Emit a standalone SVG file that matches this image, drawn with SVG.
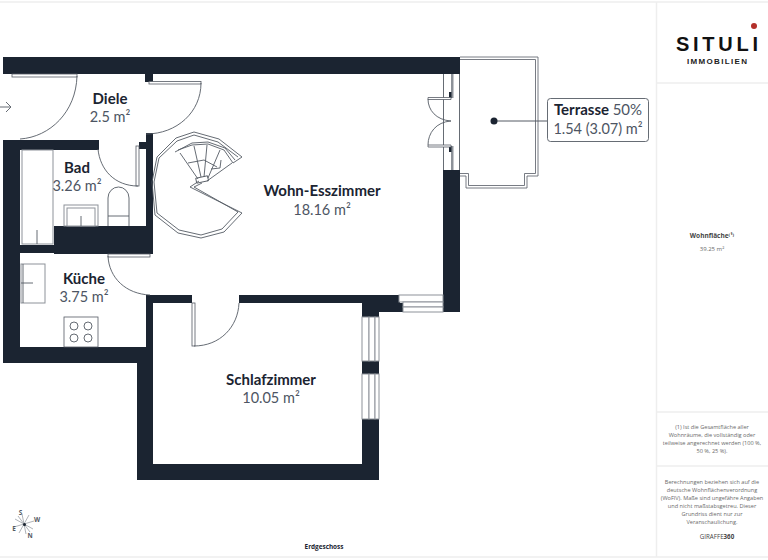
<svg xmlns="http://www.w3.org/2000/svg" width="768" height="560" viewBox="0 0 768 560">
<style>
.w{fill:#1b2431}
.l{fill:none;stroke:#1b2431;stroke-width:.8}
.g{fill:#fff;stroke:#8d9299;stroke-width:1}
.f{fill:#fff;stroke:#555b64;stroke-width:.8}
.s{fill:none;stroke:#555b64;stroke-width:.9}
.n{font-family:"Lato","Inter",sans-serif;font-weight:700;font-size:15px;fill:#1b2431;text-anchor:middle}
.a{font-family:"Lato","Inter",sans-serif;font-size:14.5px;fill:#4d5563;text-anchor:middle}
.b{stroke:#eeeeee;stroke-width:1.5;fill:none}
.t{font-family:"Open Sans",sans-serif;font-size:5.6px;fill:#6a6a6a;text-anchor:middle}
.c{font-family:"Open Sans",sans-serif;font-size:6.4px;font-weight:700;fill:#555b64;text-anchor:middle}
</style>
<rect width="768" height="560" fill="#fff"/>
<g id="frame">
<path class="b" d="M0 2H768M656.500 2V557M656.500 83H768M656.500 412H768M656.500 466H768M0 557H768"/>
</g>
<g id="terrace">
<path class="f" d="M460 57H538V176H527V188H466V176H460" stroke-width="1"/>
<path class="f" d="M460 59.500H535.500V173.500H524.500V185.500H468.500V173.500H460"/>
</g>
<g id="walls">
<rect class="w" x="3" y="57" width="457" height="17"/>
<rect class="w" x="145" y="74" width="8" height="8"/>
<rect class="w" x="146" y="133" width="7" height="93"/>
<rect class="w" x="139" y="142" width="14" height="7"/>
<rect class="w" x="3" y="140" width="17" height="223"/>
<rect class="w" x="3" y="140" width="96" height="10"/>
<rect class="w" x="54" y="226" width="99" height="28"/>
<rect class="w" x="20" y="245" width="40" height="8"/>
<rect class="w" x="3" y="347" width="150" height="16"/>
<rect class="w" x="146" y="295" width="7" height="68"/>
<rect class="w" x="137" y="347" width="16" height="133"/>
<rect class="w" x="137" y="464" width="242" height="16"/>
<rect class="w" x="146" y="295" width="46" height="8"/>
<rect class="w" x="239" y="295" width="161" height="8"/>
<rect class="w" x="362" y="303" width="17" height="14"/>
<rect class="w" x="379" y="303" width="24" height="9"/>
<rect class="w" x="362" y="361" width="17" height="13"/>
<rect class="w" x="362" y="419" width="17" height="50"/>
<rect class="w" x="443" y="170" width="17" height="142"/>
</g>
<g id="windows">
<g class="g">
<rect x="399" y="295" width="44" height="7"/>
<rect x="403" y="302" width="40" height="5"/>
<rect x="403" y="307" width="40" height="5"/>
<rect x="362" y="317" width="7" height="44"/>
<rect x="369" y="317" width="6" height="44"/>
<rect x="375" y="317" width="4" height="44"/>
<rect x="362" y="374" width="7" height="45"/>
<rect x="369" y="374" width="6" height="45"/>
<rect x="375" y="374" width="4" height="45"/>
</g>
<path d="M443.500 74V170M459.500 74V170" class="s"/>
<rect x="451" y="74" width="2.500" height="24" fill="#8d9299"/>
<rect x="451" y="146" width="2.500" height="24" fill="#8d9299"/>
<rect x="449" y="92" width="2.500" height="6" class="w"/>
<rect x="449" y="146" width="2.500" height="6" class="w"/>
</g>
<g id="doors">
<rect class="f" x="12" y="74" width="65" height="3"/>
<path class="s" d="M77 76C76 112 50 137 20 139"/>
<path class="s" d="M0 107H10M6 102L11 107L6 112"/>
<rect class="f" x="149" y="81.500" width="52" height="2.500"/>
<path class="s" d="M201 83C201 112 177 134 146 134"/>
<rect class="f" x="136" y="146" width="3" height="40"/>
<path class="s" d="M138 186C115 186 100 170 98 149"/>
<rect class="f" x="108" y="254" width="42" height="3"/>
<path class="s" d="M108 256C109 278 126 294 150 295"/>
<rect class="f" x="192" y="303" width="3" height="43"/>
<path class="s" d="M194 346C220 346 238 327 239 303"/>
<path class="f" d="M428 97.500H451V99.500H428Z"/>
<path class="f" d="M428 145H451V147H428Z"/>
<path class="s" d="M428 99C428 110 436 120 451 121C436 122 428 133 428 145"/>
</g>
<g id="fixtures">
<rect class="g" x="22" y="150" width="31" height="94"/>
<path class="s" d="M37 230V244"/>
<rect class="g" x="64" y="205" width="34" height="21"/>
<rect class="g" x="67" y="208" width="28" height="18"/>
<path class="s" d="M81 216V226"/>
<path class="s" d="M108 226V198A10.500 11 0 0 1 129 198V226M108 216H129"/>
<rect class="g" x="21" y="264" width="24" height="39"/>
<path class="s" d="M23 264V303M21 283H33"/>
<rect class="f" x="64" y="317" width="34" height="30"/>
<g class="s"><circle cx="74" cy="326" r="4"/><circle cx="88" cy="326" r="4"/><circle cx="74" cy="338" r="4"/><circle cx="88" cy="338" r="4"/></g>
</g>
<g id="stairs" class="s">
<path d="M199 181L190 187L242 213L224 232L201 238L178 233L155 215L152 182L157 157L176 138L194 132L219 139L242 157L233 163"/>
<path d="M202 183L194 187L238 212L222 229L201 235L179 230L157 213L154 182L159 158L177 141L194 135L218 142L238 157"/>
<path d="M175 152L192 143L208 142L225 148L235 160"/>
<path d="M178 150L192 145L208 144L224 150L233 163"/>
<path d="M180 153L198 179M194 146L201 177M207 145L204 177M220 150L208 178M232 163L207 181"/>
<path d="M188 163L204 160L217 167M211 169L220 168L221 160"/>
<rect x="196" y="177" width="12" height="5" transform="rotate(-12 202 179)"/>
</g>
<g id="diele"><text class="n" x="110" y="104">Diele</text><text class="a" x="110" y="122">2.5 m²</text></g>
<g id="bad"><text class="n" x="77" y="173">Bad</text><text class="a" x="77" y="191">3.26 m²</text></g>
<g id="kueche"><text class="n" x="84" y="284">Küche</text><text class="a" x="84" y="302">3.75 m²</text></g>
<g id="wohn"><text class="n" x="322" y="196">Wohn-Esszimmer</text><text class="a" x="322" y="215">18.16 m²</text></g>
<g id="schlaf"><text class="n" x="271" y="385">Schlafzimmer</text><text class="a" x="271" y="403">10.05 m²</text></g>
<g id="connectors"><path d="M494 121H547" stroke="#555b64" stroke-width="1"/><circle cx="494" cy="121" r="3.500" class="w"/></g>
<g id="terrasse">
<rect x="547.500" y="98.500" width="101" height="43" rx="3" fill="#fff" stroke="#555b64" stroke-width=".9"/>
<text class="n" x="598" y="115"><tspan>Terrasse</tspan> <tspan style="font-weight:400;fill:#4d5563">50%</tspan></text>
<text class="a" x="598" y="134">1.54 (3.07) m²</text>
</g>
<g id="logo">
<text x="676" y="51" font-family="Liberation Sans,sans-serif" font-size="20" font-weight="700" fill="#111" textLength="82" lengthAdjust="spacing">SITULI</text>
<text x="687" y="64" font-family="Liberation Sans,sans-serif" font-size="8" font-weight="700" fill="#222" textLength="60" lengthAdjust="spacing">IMMOBILIEN</text>
<circle cx="754" cy="26" r="3" fill="#b3302a"/>
</g>
<g id="sidebar">
<text class="t" x="712" y="238" style="font-weight:700;font-size:6.500px;fill:#444">Wohnfläche⁽¹⁾</text>
<text class="t" x="712" y="251" style="font-size:6px">39.25 m²</text>
<text class="t" x="712" y="429">(1) Ist die Gesamtfläche aller</text>
<text class="t" x="712" y="437">Wohnräume, die vollständig oder</text>
<text class="t" x="712" y="445">teilweise angerechnet werden (100 %,</text>
<text class="t" x="712" y="453">50 %, 25 %).</text>
<text class="t" x="712" y="484">Berechnungen beziehen sich auf die</text>
<text class="t" x="712" y="492">deutsche Wohnflächenverordnung</text>
<text class="t" x="712" y="500">(WoFlV). Maße sind ungefähre Angaben</text>
<text class="t" x="712" y="508">und nicht maßstabsgetreu. Dieser</text>
<text class="t" x="712" y="516">Grundriss dient nur zur</text>
<text class="t" x="712" y="524">Veranschaulichung.</text>
<text class="t" x="717" y="539" style="font-size:6.200px;fill:#444">GIRAFFE<tspan font-weight="700">360</tspan></text>
</g>
<text class="c" x="324" y="549" style="fill:#1b2431">Erdgeschoss</text>
<g id="compass">
<path d="M15 519L33 529M19 533L29 515M22 514L26 534M14 527L34 521M18 516L30 532" stroke="#8d9299" stroke-width=".7"/>
<circle cx="24.500" cy="524.500" r="1.500" class="w"/>
<text class="c" x="20.500" y="515">S</text>
<text class="c" x="37" y="522">W</text>
<text class="c" x="14" y="531">E</text>
<text class="c" x="30" y="538">N</text>
</g>
</svg>
